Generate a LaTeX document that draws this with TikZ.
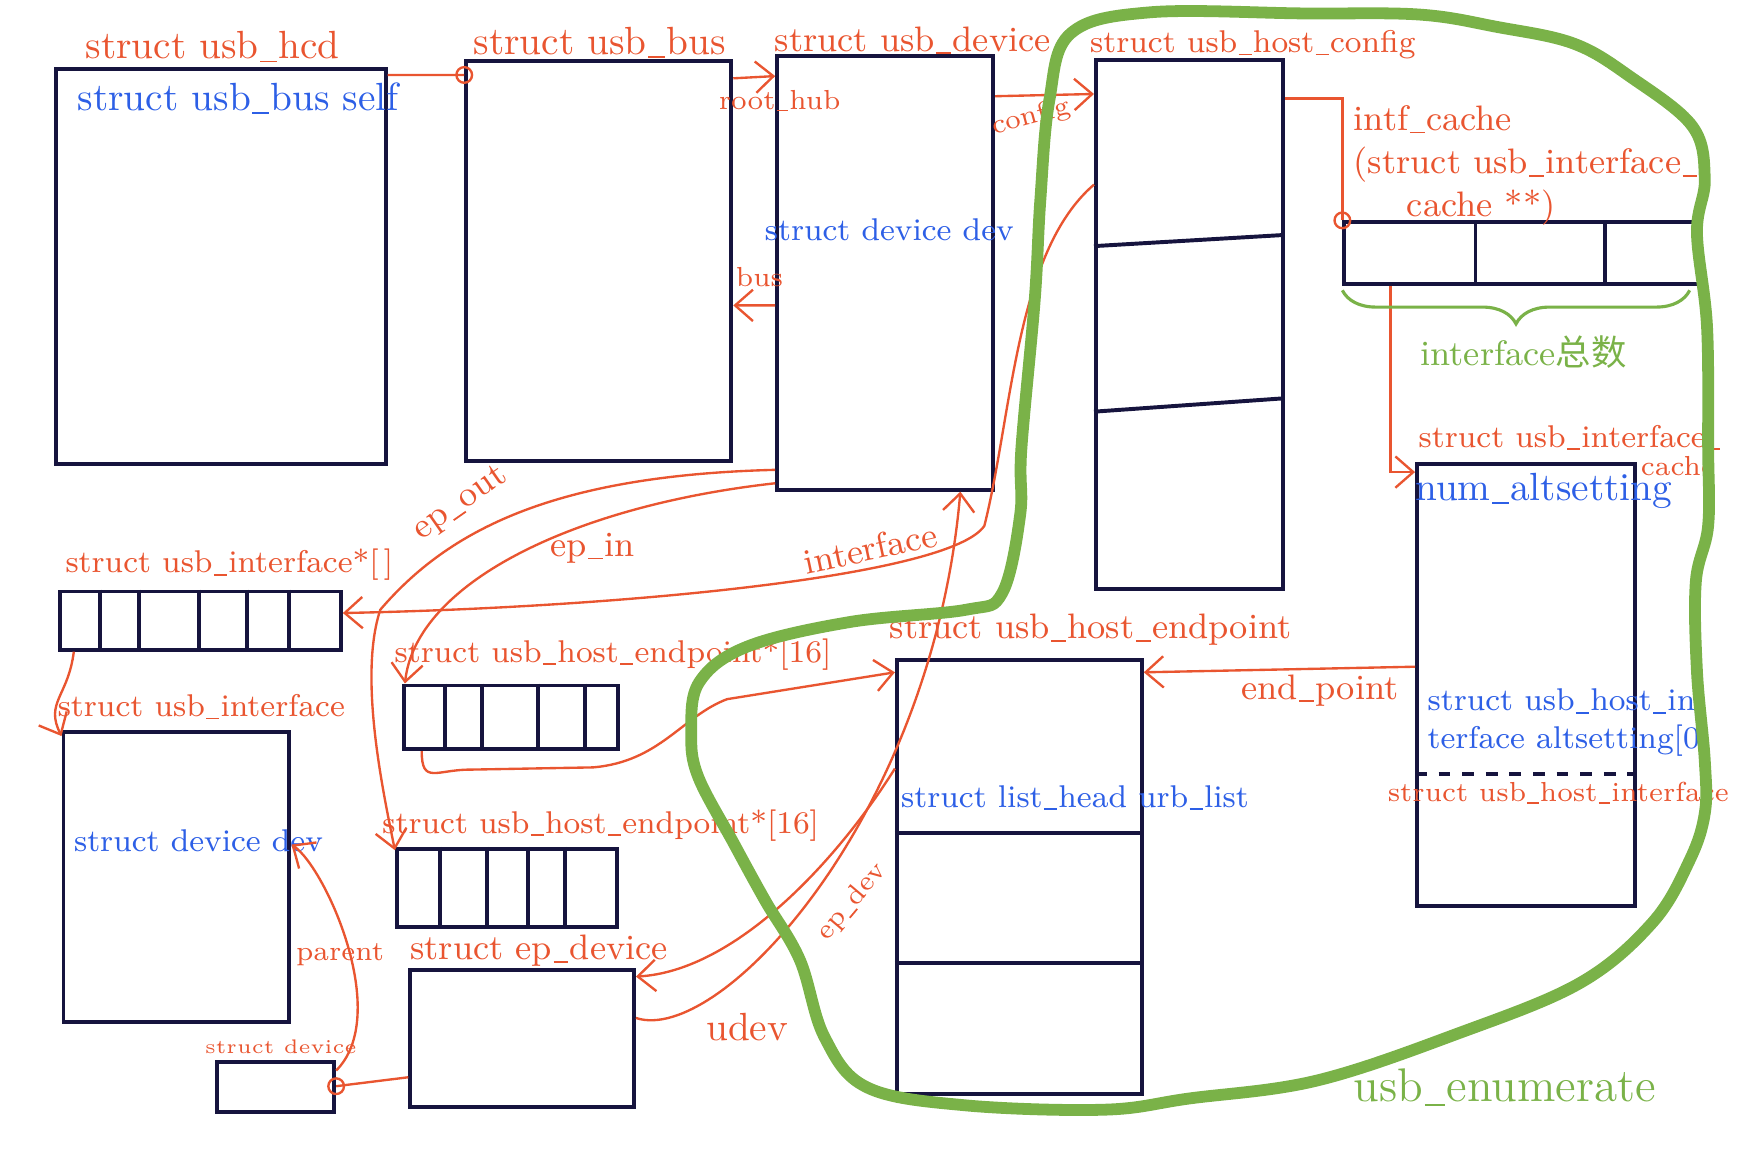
\documentclass[tikz,border=0pt]{standalone}
\usepackage{fontspec}
\newfontfamily\cjkfont{Noto Sans CJK SC}
\usetikzlibrary{arrows.meta,positioning,decorations.pathreplacing}
\newcommand{\us}{\kern0.04em\rule[-0.2ex]{0.42em}{0.45pt}\kern0.04em}

\begin{document}
\begin{tikzpicture}[
    x=0.1mm, y=-0.1mm,
    >={Straight Barb[length=1.6mm,width=2.8mm]},
    font=\small,
    box/.style={
        draw=boxcol,
        line width=1pt,
        anchor=north west,
        inner sep=0pt
    },
    cell/.style={draw=boxcol, line width=1pt},
    title/.style={text=redcol, inner sep=1pt},
    field/.style={text=bluecol, inner sep=1pt},
    link/.style={draw=redcol, line width=0.6pt},
    ring/.style={
        circle,
        draw=redcol,
        line width=0.6pt,
        inner sep=0pt,
        minimum size=1.4mm
    },
    hull/.style={draw=greencol, line width=3pt}
]

\definecolor{redcol}{RGB}{233,85,48}
\definecolor{bluecol}{RGB}{45,95,230}
\definecolor{boxcol}{RGB}{22,20,62}
\definecolor{greencol}{RGB}{122,178,72}

\useasboundingbox (0,0) rectangle (1568,1031);

\node[box, minimum width=29.5mm, minimum height=35.3mm] (hcd) at (48,60) {};
\node[box, minimum width=23.7mm, minimum height=35.7mm] (bus) at (415,53) {};
\node[box, minimum width=19.3mm, minimum height=38.8mm] (usbdev) at (693,48) {};
\node[box, minimum width=16.7mm, minimum height=47.3mm] (cfg) at (978,52) {};
\node[box, minimum width=25.1mm, minimum height=5.2mm] (ifarr) at (52,527) {};
\node[box, minimum width=20.2mm, minimum height=25.9mm] (intf) at (55,653) {};
\node[box, minimum width=19.2mm, minimum height=5.7mm] (eparr1) at (359,611) {};
\node[box, minimum width=19.7mm, minimum height=7mm] (eparr2) at (353,757) {};
\node[box, minimum width=10.5mm, minimum height=4.4mm] (sdev) at (192,948) {};
\node[box, minimum width=20mm, minimum height=12.3mm] (epdev) at (365,865) {};
\node[box, minimum width=21.9mm, minimum height=38.8mm] (hep) at (800,588) {};
\node[box, minimum width=31.7mm, minimum height=5.5mm] (icarr) at (1200,197) {};
\node[box, minimum width=19.5mm, minimum height=39.5mm] (icache) at (1265,413) {};

\foreach \dx in {3.7,7.2,12.6,16.9,20.6}
    \draw[cell] ([xshift=\dx mm]ifarr.north west) -- ([xshift=\dx mm]ifarr.south west);
\foreach \dx in {3.9,7.2,12.2,16.4}
    \draw[cell] ([xshift=\dx mm]eparr1.north west) -- ([xshift=\dx mm]eparr1.south west);
\foreach \dx in {4.0,8.2,11.9,15.2}
    \draw[cell] ([xshift=\dx mm]eparr2.north west) -- ([xshift=\dx mm]eparr2.south west);
\foreach \dx in {11.9,23.5}
    \draw[cell] ([xshift=\dx mm]icarr.north west) -- ([xshift=\dx mm]icarr.south west);
\foreach \dy in {15.7,27.3}
    \draw[cell] ([yshift=-\dy mm]hep.north west) -- ([yshift=-\dy mm]hep.north east);
\draw[cell] ([yshift=-16.8mm]cfg.north west) -- ([yshift=-15.8mm]cfg.north east);
\draw[cell] ([yshift=-31.6mm]cfg.north west) -- ([yshift=-30.4mm]cfg.north east);
\draw[cell, dashed] ([yshift=-27.9mm]icache.north west) -- ([yshift=-27.9mm]icache.north east);

\node[title, font=\normalsize] (hcd-t) at (190,42) {struct usb\us hcd};
\node[title, font=\normalsize] (bus-t) at (536,38) {struct usb\us bus};
\node[title] (usbdev-t) at (816,36) {struct usb\us device};
\node[title, font=\footnotesize] (cfg-t) at (1120,40) {struct usb\us host\us config};
\node[title, font=\footnotesize] (ifarr-t) at (205,505) {struct usb\us interface*[\,]};
\node[title, font=\footnotesize] (intf-t) at (180,632) {struct usb\us interface};
\node[title, font=\footnotesize] (eparr1-t) at (548,585) {struct usb\us host\us endpoint*[16]};
\node[title, font=\footnotesize] (eparr2-t) at (537,738) {struct usb\us host\us endpoint*[16]};
\node[title, font=\tiny] (sdev-t) at (251,936) {struct device};
\node[title] (epdev-t) at (482,850) {struct ep\us device};
\node[title] (hep-t) at (975,563) {struct usb\us host\us endpoint};
\node[title, font=\footnotesize, anchor=west] (icache-t) at (1264,391) {struct usb\us interface\us};
\node[title, font=\scriptsize] (icache-t2) at (1500,417) {cache};
\node[title, font=\scriptsize] (hi-t) at (1393,709) {struct usb\us host\us interface};

\node[field, font=\normalsize] (self) at (213,88) {struct usb\us bus self};
\node[field, font=\footnotesize] (devdev) at (795,205) {struct device dev};
\node[field, font=\footnotesize, anchor=west] (intfdev) at (62,752) {struct device dev};
\node[field, font=\footnotesize] (urb) at (961,713) {struct list\us head urb\us list};
\node[field, font=\normalsize] (nalt) at (1380,439) {num\us altsetting};
\node[field, font=\footnotesize, align=left, anchor=west] (alt) at (1272,646)
    {struct usb\us host\us in\\terface altsetting[0]};

\node[title, font=\scriptsize] (rh-l) at (697,90) {root\us hub};
\node[title, font=\scriptsize] (bus-l) at (679,248) {bus};
\node[title, font=\scriptsize, rotate=15] (cfg-l) at (922,105) {config};
\node[title, rotate=35] (epout-l) at (412,450) {ep\us out};
\node[title] (epin-l) at (530,490) {ep\us in};
\node[title, rotate=12] (if-l) at (778,490) {interface};
\node[title, font=\scriptsize] (parent-l) at (304,853) {parent};
\node[title, font=\normalsize] (udev-l) at (668,918) {udev};
\node[title, font=\scriptsize, rotate=50] (epdev-l) at (762,806) {ep\us dev};
\node[title] (ep-l) at (1180,617) {end\us point};
\node[title, align=left, anchor=north west] (ic-l) at (1206,90)
    {intf\us cache\\(struct usb\us interface\us\\\hspace*{1.5em}cache **)};

\node[text=greencol] (ifsum) at (1362,315) {interface{\cjkfont 总数}};
\node[text=greencol, font=\large] (enum) at (1345,972) {usb\us enumerate};

\draw[link] ([yshift=-0.7mm]hcd.north east) -- ([yshift=-1.4mm]bus.north west) node[ring] {};
\draw[link, ->] ([yshift=-1.7mm]bus.north east) -- ([yshift=-2mm]usbdev.north west);
\draw[link, ->] ([yshift=-22.5mm]usbdev.north west) -- ([yshift=-22mm]bus.north east);
\draw[link, ->] ([yshift=-3.8mm]usbdev.north east) -- ([yshift=-3.2mm]cfg.north west);
\draw[link] ([yshift=-3.6mm]cfg.north east) -| (icarr.north west) node[ring] {};
\draw[link, ->] ([xshift=4.3mm]icarr.south west) |- ([yshift=-0.9mm]icache.north west);
\draw[link, ->] ([yshift=-18.3mm]icache.north west) -- ([yshift=-1.3mm]hep.north east);
\draw[link, ->] ([yshift=-9.9mm]hep.north west)
    .. controls +(-50,80) and +(90,-5) .. ([yshift=-0.8mm]epdev.north east);
\draw[link, ->] ([yshift=-4.5mm]epdev.north east)
    .. controls +(75,25) and +(-25,290) .. ([xshift=-3.1mm]usbdev.south east);
\draw[link, ->] ([yshift=-11.3mm]cfg.north west)
    .. controls +(-70,60) and +(25,-100) .. (880,470)
    .. controls +(-30,45) and +(250,-5) .. ([yshift=-2.1mm]ifarr.north east);
\draw[link, ->] ([yshift=-37.2mm]usbdev.north west)
    .. controls +(-200,5) and +(60,-70) .. (340,545)
    .. controls +(-20,60) and +(-10,-50) .. ([yshift=-0.3mm]eparr2.north west);
\draw[link, ->] ([yshift=-38.4mm]usbdev.north west)
    .. controls +(-180,20) and +(10,-90) .. ([xshift=0.3mm]eparr1.north west);
\draw[link, ->] ([xshift=1.8mm]eparr1.south west)
    .. controls +(0,30) and +(-30,0) .. (420,688) -- (530,686)
    .. controls +(60,-5) and +(-40,15) .. (650,625) -- ([yshift=-1.3mm]hep.north west);
\draw[link, ->] ([yshift=-0.9mm]sdev.north east)
    .. controls +(50,-50) and +(30,20) .. ([yshift=-10.2mm]intf.north east);
\draw[link] ([yshift=-9.8mm]epdev.north west) -- ([yshift=-2.3mm]sdev.north east) node[ring] {};
\draw[link, ->] ([xshift=1.4mm]ifarr.south west)
    .. controls +(-5,40) and +(-15,-30) .. ([yshift=-0.5mm]intf.north west);

\draw[greencol, line width=0.8pt, decorate, decoration={brace, mirror, amplitude=3mm}]
    ([yshift=-0.4mm]icarr.south west) -- ([xshift=-1mm, yshift=-0.4mm]icarr.south east);

\draw[hull] plot[smooth cycle, tension=0.6] coordinates {
    (1028,11) (1166,12) (1269,13) (1338,24) (1407,39) (1458,69) (1513,113)
    (1524,160) (1517,208) (1526,292) (1527,400) (1527,470) (1516,520)
    (1517,600) (1524,680) (1524,727) (1510,770) (1477,825) (1412,879)
    (1303,924) (1177,966) (1063,982) (987,992) (862,988) (775,972)
    (737,927) (715,858) (684,805) (656,754) (624,694) (618,655) (625,610)
    (668,578) (760,556) (864,545) (896,530) (912,460) (913,402) (925,268)
    (930,179) (938,90) (957,30)};

\end{tikzpicture}
\end{document}
